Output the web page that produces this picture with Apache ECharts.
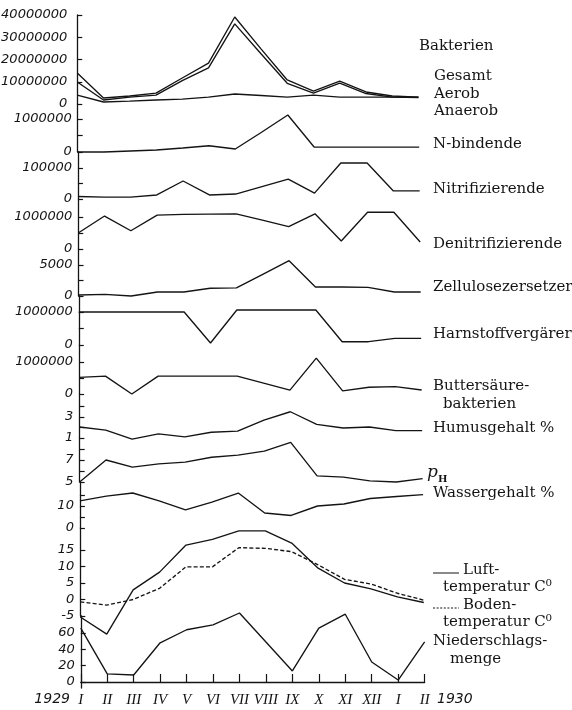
<!DOCTYPE html>
<html>
<head>
<meta charset="utf-8">
<script src="https://cdn.jsdelivr.net/npm/echarts@6/dist/echarts.min.js"></script>
<style>
  html, body { margin: 0; padding: 0; background: #ffffff; }
  #chart { width: 572px; height: 710px; }
</style>
</head>
<body>
<div id="chart"></div>
<script>
// Monthly soil observations, January 1929 – February 1930
const months = ['I', 'II', 'III', 'IV', 'V', 'VI', 'VII', 'VIII', 'IX', 'X', 'XI', 'XII', 'I', 'II'];

// Bacteria counts per gram of soil
const gesamt  = [13900000, 2700000, 3600000, 4900000, 11700000, 18400000, 39100000, 24800000, 10800000, 5800000, 10300000, 5400000, 3600000, 3100000];
const aerob   = [9900000, 1800000, 3100000, 4000000, 10500000, 16200000, 36000000, 22600000, 9300000, 4900000, 9400000, 4700000, 3100000, 2900000];
const anaerob = [4000000, 900000, 1300000, 1800000, 2200000, 3100000, 4500000, 3800000, 3100000, 4000000, 3100000, 3100000, 3100000, 3100000];
const nBindende         = [0, 0, 30000, 60000, 120000, 190000, 90000, 600000, 1120000, 150000, 150000, 150000, 150000, 150000];
const nitrifizierende   = [8000, 6000, 6000, 13000, 58000, 13000, 16000, 40000, 64000, 19000, 116000, 116000, 26000, 26000];
const denitrifizierende = [500000, 1030000, 570000, 1060000, 1080000, 1090000, 1100000, 900000, 700000, 1100000, 250000, 1150000, 1150000, 220000];
const zellulose         = [160, 270, 0, 650, 650, 1250, 1300, 3500, 5700, 1450, 1450, 1400, 650, 650];
const harnstoff         = [1000000, 1000000, 1000000, 1000000, 1000000, 60000, 1060000, 1060000, 1060000, 1060000, 100000, 100000, 200000, 200000];
const buttersaeure      = [520000, 560000, 0, 560000, 560000, 560000, 560000, 340000, 120000, 1120000, 100000, 210000, 230000, 125000];

// Soil properties and weather
const humus        = [2.05, 1.75, 0.9, 1.4, 1.1, 1.55, 1.65, 2.7, 3.5, 2.3, 1.95, 2.05, 1.7, 1.7];
const ph           = [5.0, 7.0, 6.35, 6.65, 6.8, 7.25, 7.45, 7.8, 8.6, 5.55, 5.45, 5.1, 5.0, 5.3];
const wasser       = [12.3, 14.5, 15.9, 12.3, 8.2, 11.8, 15.9, 6.8, 5.7, 10, 10.9, 13.4, 14.3, 15.2];
const luftTemp     = [-5.3, -10.5, 2.9, 8.3, 16.5, 18.2, 20.8, 20.8, 17.1, 9.5, 5.0, 3.2, 0.8, -0.9];
const bodenTemp    = [-0.7, -1.7, 0, 3.4, 9.9, 9.9, 15.7, 15.5, 14.5, 10.5, 6.1, 4.7, 1.9, -0.2];
const niederschlag = [66, 10, 8.6, 48, 64, 70, 84.5, 49, 13.5, 66, 83, 24.5, 2.4, 49];

// Tick positions and labelled ticks of each strip
const ticksBakterien   = [0, 10000000, 20000000, 30000000, 40000000];
const ticksMillion     = [0, 500000, 1000000];
const labelsMillion    = [0, 1000000];
const ticksNitri       = [0, 50000, 100000];
const labelsNitri      = [0, 100000];
const ticksZellulose   = [0, 2500, 5000];
const labelsZellulose  = [0, 5000];
const ticksHumus       = [1, 2, 3, 4];
const labelsHumus      = [1, 3];
const ticksPh          = [5, 6, 7, 8];
const labelsPh         = [5, 7];
const ticksWasser      = [0, 5, 10, 15];
const labelsWasser     = [0, 10];
const ticksTemp        = [-5, 0, 5, 10, 15];
const ticksNieder      = [0, 20, 40, 60];

const INK = '#141414';
const LABEL_FONT = "'DejaVu Sans', sans-serif";
const NAME_FONT = "'DejaVu Serif', serif";

// Each strip: pixel band [top, bottom] and two reference ticks (value, pixel y)
const strips = [
  { top: 15,  bottom: 104, a: [0, 104], b: [40000000, 15], ticks: ticksBakterien, labels: ticksBakterien, margin: 10,
    series: [{ name: 'Gesamt', data: gesamt }, { name: 'Aerob', data: aerob }, { name: 'Anaerob', data: anaerob }] },
  { top: 104, bottom: 152, a: [0, 152], b: [1000000, 119], ticks: ticksMillion, labels: labelsMillion,
    series: [{ name: 'N-bindende', data: nBindende }] },
  { top: 152, bottom: 199, a: [0, 199], b: [100000, 168], ticks: ticksNitri, labels: labelsNitri,
    series: [{ name: 'Nitrifizierende', data: nitrifizierende }] },
  { top: 199, bottom: 249, a: [0, 249], b: [1000000, 217], ticks: ticksMillion, labels: labelsMillion,
    series: [{ name: 'Denitrifizierende', data: denitrifizierende }] },
  { top: 249, bottom: 296, a: [0, 296], b: [5000, 265], ticks: ticksZellulose, labels: labelsZellulose,
    series: [{ name: 'Zellulosezersetzer', data: zellulose }] },
  { top: 296, bottom: 345, a: [0, 345], b: [1000000, 312], ticks: ticksMillion, labels: labelsMillion,
    series: [{ name: 'Harnstoffvergärer', data: harnstoff }] },
  { top: 345, bottom: 394, a: [0, 394], b: [1000000, 362], ticks: ticksMillion, labels: labelsMillion,
    series: [{ name: 'Buttersäurebakterien', data: buttersaeure }] },
  { top: 394, bottom: 438, a: [1, 438], b: [3, 417], ticks: ticksHumus, labels: labelsHumus,
    series: [{ name: 'Humusgehalt %', data: humus }] },
  { top: 438, bottom: 482, a: [5, 482], b: [7, 460], ticks: ticksPh, labels: labelsPh,
    series: [{ name: 'pH', data: ph }] },
  { top: 482, bottom: 528, a: [0, 528], b: [10, 506], ticks: ticksWasser, labels: labelsWasser,
    series: [{ name: 'Wassergehalt %', data: wasser }] },
  { top: 528, bottom: 616, a: [-5, 616], b: [15, 550], ticks: ticksTemp, labels: ticksTemp,
    series: [{ name: 'Lufttemperatur', data: luftTemp }, { name: 'Bodentemperatur', data: bodenTemp, dashed: true }] },
  { top: 616, bottom: 688, a: [0, 682], b: [60, 633], ticks: ticksNieder, labels: ticksNieder, last: true,
    series: [{ name: 'Niederschlagsmenge', data: niederschlag }] }
];

const grids = [], xAxes = [], yAxes = [], series = [];

strips.forEach((s, i) => {
  // the hand-drawn figure leans slightly: lower strips sit a few pixels further right
  const f = ((s.top + s.bottom) / 2 - 15) / (688 - 15);
  const left = 77 + 4 * f;
  const right = 418 + 7 * f;
  const slope = (s.b[1] - s.a[1]) / (s.b[0] - s.a[0]);
  const valueAt = y => s.a[0] + (y - s.a[1]) / slope;

  grids.push({ left: left, top: s.top, width: right - left, height: s.bottom - s.top, outerBoundsMode: 'none' });

  xAxes.push({
    gridIndex: i, type: 'category', data: months, boundaryGap: false,
    show: !!s.last,
    axisLine: { show: true, lineStyle: { color: INK, width: 1.3 } },
    axisTick: { show: true, inside: true, length: 8, alignWithLabel: true, interval: 0, lineStyle: { color: INK, width: 1.2 } },
    axisLabel: { show: true, interval: 0, margin: 5, color: INK, fontFamily: "'Liberation Serif', serif", fontStyle: 'italic', fontSize: 15 },
    splitLine: { show: false }
  });

  yAxes.push({
    gridIndex: i, type: 'value', min: valueAt(s.bottom), max: valueAt(s.top),
    axisLine: { show: true, onZero: false, lineStyle: { color: INK, width: 1.3 } },
    axisTick: { show: true, inside: true, length: 5, customValues: s.ticks, lineStyle: { color: INK, width: 1.2 } },
    axisLabel: {
      show: true, customValues: s.labels, margin: s.margin || 6, color: INK,
      fontFamily: LABEL_FONT, fontStyle: 'italic', fontSize: 13,
      formatter: v => String(Math.round(v))
    },
    splitLine: { show: false }
  });

  s.series.forEach(d => {
    series.push({
      type: 'line', name: d.name, xAxisIndex: i, yAxisIndex: i, data: d.data,
      symbol: 'none', clip: false, silent: true, animation: false,
      lineStyle: { color: INK, width: 1.35, type: d.dashed ? [4, 2.2] : 'solid' }
    });
  });
});

// Series names on the right-hand side
const names = [
  ['Bakterien', 419, 48], ['Gesamt', 434, 78], ['Aerob', 434, 96], ['Anaerob', 434, 113],
  ['N-bindende', 433, 146], ['Nitrifizierende', 433, 191], ['Denitrifizierende', 433, 246],
  ['Zellulosezersetzer', 433, 289], ['Harnstoffvergärer', 433, 336],
  ['Buttersäure-', 433, 388], ['bakterien', 443, 406], ['Humusgehalt %', 433, 430],
  ['Wassergehalt %', 433, 495],
  ['Luft-', 463, 572], ['temperatur C⁰', 443, 589],
  ['Boden-', 463, 607], ['temperatur C⁰', 443, 624],
  ['Niederschlags-', 433, 643], ['menge', 450, 661]
];

const graphics = names.map(([t, x, y]) => ({
  type: 'text', left: x, top: y - 9, silent: true,
  style: { text: t, fill: INK, font: "15px " + NAME_FONT }
}));

graphics.push(
  { type: 'text', left: 427, top: 464, silent: true, style: { text: 'p', fill: INK, font: "italic 17px " + NAME_FONT } },
  { type: 'text', left: 438, top: 474, silent: true, style: { text: 'H', fill: INK, font: "bold 10px " + NAME_FONT } },
  { type: 'line', silent: true, shape: { x1: 433, y1: 573, x2: 459, y2: 573 }, style: { stroke: INK, lineWidth: 1 } },
  { type: 'line', silent: true, shape: { x1: 433, y1: 608, x2: 459, y2: 608 }, style: { stroke: INK, lineWidth: 1.2, lineDash: [2, 1.6] } },
  { type: 'text', right: 572 - 70, top: 692, silent: true, style: { text: '1929', fill: INK, font: "italic 14px " + LABEL_FONT } },
  { type: 'text', left: 437, top: 692, silent: true, style: { text: '1930', fill: INK, font: "italic 14px " + LABEL_FONT } }
);

const chart = echarts.init(document.getElementById('chart'), null, { renderer: 'canvas' });
chart.setOption({
  backgroundColor: '#ffffff',
  animation: false,
  grid: grids,
  xAxis: xAxes,
  yAxis: yAxes,
  series: series,
  graphic: graphics
});
</script>
</body>
</html>
